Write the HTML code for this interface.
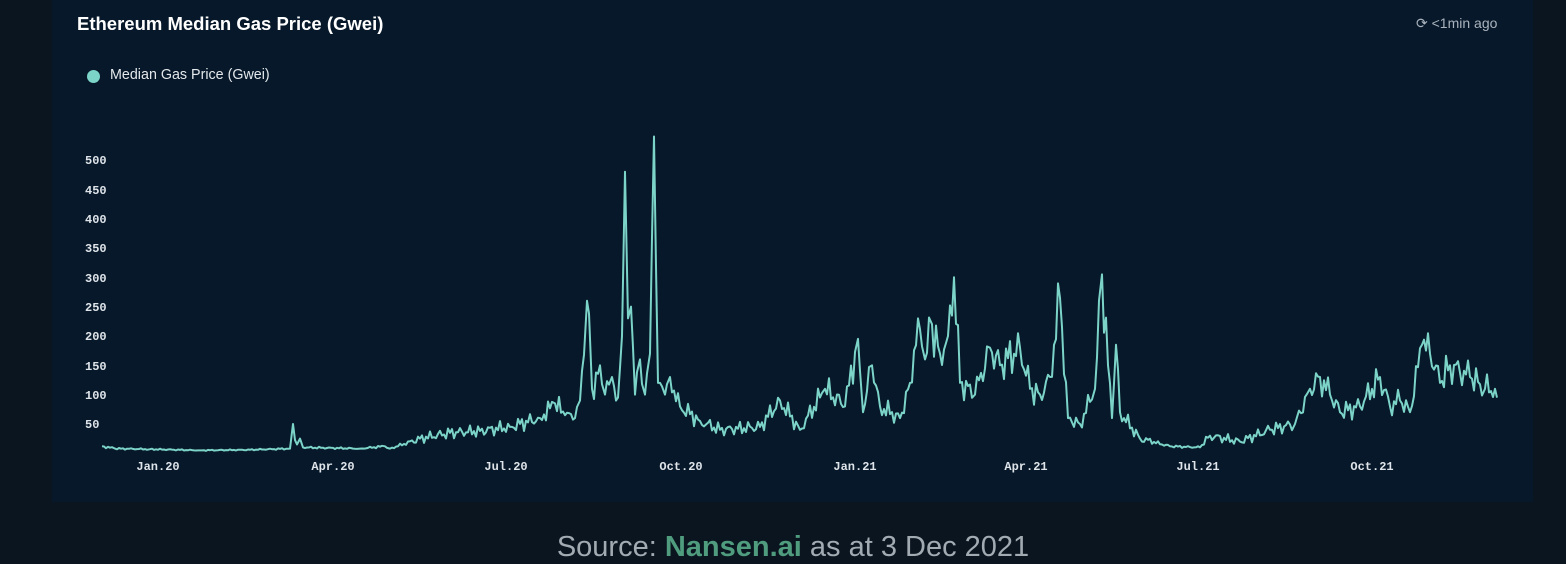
<!DOCTYPE html>
<html><head><style>
html,body{margin:0;padding:0;}
body{width:1566px;height:562px;background:#0a1520;position:relative;overflow:hidden;font-family:"Liberation Sans",sans-serif;}
.card{position:absolute;left:52px;top:0;width:1481px;height:502px;background:#061829;}
.t{position:absolute;color:#fff;}
</style></head><body>
<div class="card"></div>
<div class="t" style="left:77px;top:13px;font-size:18.5px;font-weight:bold;">Ethereum Median Gas Price (Gwei)</div>
<div class="t" style="left:1416px;top:15px;font-size:14px;color:#aab3bd;">&#x27F3; &lt;1min ago</div>
<div style="position:absolute;left:87px;top:70px;width:13px;height:13px;border-radius:50%;background:#7cd3c8;"></div>
<div class="t" style="left:110px;top:67px;font-size:14.3px;color:#e4e8ec;">Median Gas Price (Gwei)</div>
<svg id="s" width="1566" height="562" style="position:absolute;left:0;top:0;">
<g font-family="Liberation Mono,monospace" font-weight="bold" font-size="12" fill="#dfe4ea">
<text x="85" y="164">500</text><text x="85" y="194">450</text><text x="85" y="223">400</text><text x="85" y="252">350</text><text x="85" y="282">300</text><text x="85" y="311">250</text><text x="85" y="340">200</text><text x="85" y="370">150</text><text x="85" y="399">100</text><text x="85" y="428">50</text>
<g text-anchor="middle"><text x="158" y="470">Jan.20</text><text x="333" y="470">Apr.20</text><text x="506" y="470">Jul.20</text><text x="681" y="470">Oct.20</text><text x="855" y="470">Jan.21</text><text x="1026" y="470">Apr.21</text><text x="1198" y="470">Jul.21</text><text x="1372" y="470">Oct.21</text></g>
</g>
<polyline id="p" fill="none" stroke="#7cd3c8" stroke-width="2" stroke-linejoin="round"/>
</svg>
<div class="t" style="left:0;width:1586px;text-align:center;top:531px;font-size:29px;color:#a3abb2;">Source: <b style="color:#4f9c7e;">Nansen.ai</b> as at 3 Dec 2021</div>
<script>
var k=[[102,12],[115,8],[150,7],[200,5],[250,6],[290,8],[293,50],[297,15],[300,25],[303,10],[360,8],[385,12],[390,8],[420,25],[450,35],[480,38],[510,45],[540,60],[555,85],[565,65],[575,60],[580,90],[587,260],[592,110],[600,150],[605,100],[612,130],[618,95],[622,200],[625,480],[628,230],[631,250],[635,100],[640,160],[645,100],[650,170],[654,540],[658,120],[665,100],[670,130],[680,80],[700,55],[720,40],[760,45],[780,90],[800,40],[825,110],[845,80],[858,195],[863,70],[872,150],[880,80],[900,60],[910,120],[918,230],[925,160],[932,220],[940,170],[948,200],[954,300],[960,120],[975,100],[990,180],[1000,150],[1020,180],[1030,110],[1040,100],[1050,130],[1060,265],[1068,60],[1080,50],[1095,110],[1102,305],[1108,150],[1112,60],[1116,185],[1120,70],[1140,25],[1170,12],[1200,10],[1210,30],[1240,20],[1270,40],[1295,50],[1310,110],[1320,130],[1330,100],[1340,70],[1360,80],[1380,130],[1390,80],[1400,90],[1410,70],[1422,185],[1430,170],[1440,120],[1450,150],[1470,130],[1485,110],[1495,110],[1497,95]];
var pts=[];function Y(v){return (453.3-v*0.5867).toFixed(1);}
for(var j=0;j<k.length-1;j++){var a=k[j],b=k[j+1];pts.push(a[0]+","+Y(a[1]));
for(var x=a[0]+2;x<b[0]-1;x+=2){var t=(x-a[0])/(b[0]-a[0]);var v=a[1]+(b[1]-a[1])*t;
var n=Math.sin(x*1.7)*0.5+Math.sin(x*0.63+1)*0.5;v=v*(1+0.2*n)+(v>20?4*n:0);if(v<2)v=2;pts.push(x+","+Y(v));}}
pts.push(k[k.length-1][0]+","+Y(k[k.length-1][1]));
document.getElementById("p").setAttribute("points",pts.join(" "));
</script>
</body></html>
